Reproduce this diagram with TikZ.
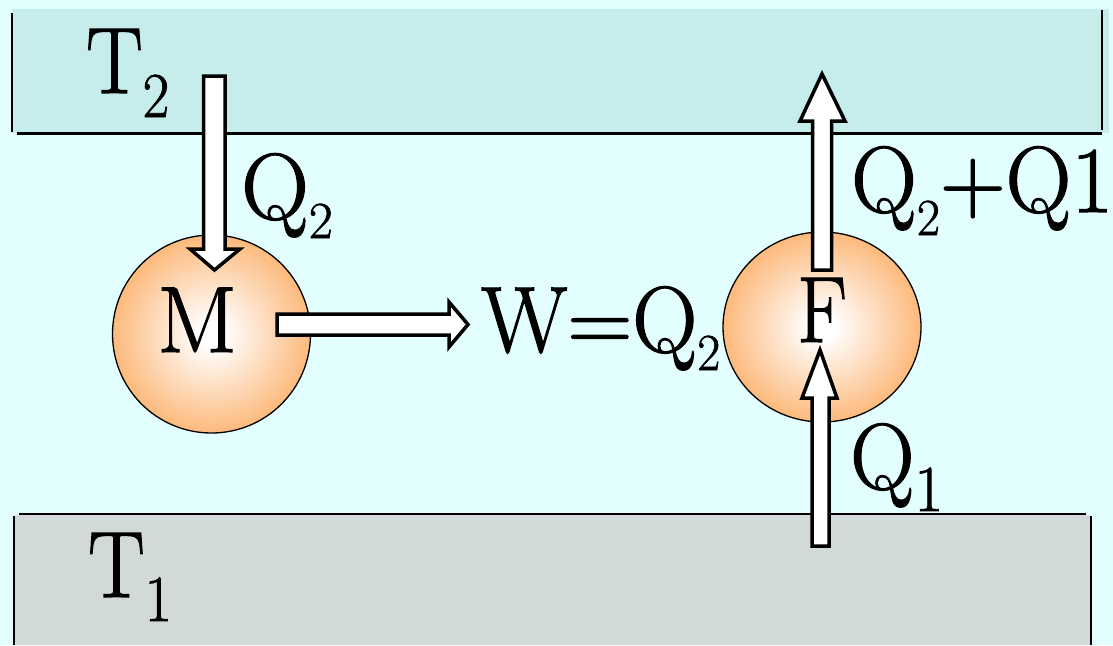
\documentclass[tikz,border=0pt]{standalone}
\usepackage{fontspec}
\newfontfamily\heavy{Latin Modern Roman}[FakeBold=1.3]
\definecolor{bgc}{HTML}{E3FEFE}
\definecolor{hotc}{HTML}{C6ECEC}
\definecolor{coldc}{HTML}{D1D9D9}
\definecolor{orb}{HTML}{FCB06A}
\pgfdeclareradialshading{ball}{\pgfpoint{0bp}{0bp}}{color(0bp)=(white); color(3bp)=(white); color(28bp)=(orb); color(50bp)=(orb)}
\newcommand\mysub[3]{\raisebox{-#1pt}{\fontsize{#2}{#2}\selectfont #3}}
\newcommand\hsq[2]{\scalebox{#1}[1]{#2}}
\begin{document}
\begin{tikzpicture}[x=1pt,y=-1pt,
  lbl/.style={anchor=base west,inner sep=0pt,font=\heavy\fontsize{94}{100}\selectfont},
  bandline/.style={line width=2.6pt,black},
  blockarrow/.style={draw=black,fill=white,line width=3.5pt,line join=miter},
  orbstyle/.style={draw=black,line width=1.3pt,shading=ball}]
\useasboundingbox (0,0) rectangle (1113,645);
\fill[bgc] (0,0) rectangle (1113,645);
% hot reservoir
\fill[hotc] (12,9) rectangle (1109,133);
\draw[bandline] (12,13) -- (12,132);
\draw[bandline] (17,133.5) -- (1102,133.5);
\draw[bandline] (1102,10) -- (1102,130);
% cold reservoir
\fill[coldc] (15,515) rectangle (1090,645);
\draw[bandline] (19,514) -- (1086,514);
\draw[bandline] (14,516) -- (14,645);
\draw[bandline] (1091,516) -- (1091,645);
% machines
\path[orbstyle] (211.5,334) circle [radius=99];
\path[orbstyle] (822,327) ellipse [x radius=99, y radius=95];
\node (M) [circle,minimum size=198pt] at (211.5,334) {};
\node (F) [circle,minimum size=190pt] at (822,327) {};
% labels
\node[lbl] (t2) at (86,93) {\hsq{0.9}{T\mysub{24}{64}{2}}};
\node[lbl] (t1) at (88,597) {\hsq{0.9}{T\mysub{24}{66}{1}}};
\node[lbl] (ml) at (157,352) {M};
\node[lbl] (fl) at (797,342) {\hsq{0.88}{F}};
\node[lbl] (q2) at (241,219) {Q\mysub{19}{52}{2}};
\node[lbl] (w) at (481,352) {\hsq{0.96}{W=Q\mysub{18}{52}{2}}};
\node[lbl] (q21) at (851,212) {\hsq{0.97}{Q\mysub{23}{52}{2}+Q1}};
\node[lbl] (q1) at (850,489) {\hsq{0.95}{Q\mysub{22}{66}{1}}};
% block arrows
\draw[blockarrow] (203.5,76) -- (225,76) -- (225,249) -- (240,249) -- (214.5,270)
  -- (190,249) -- (203.5,249) -- cycle;
\draw[blockarrow] (277,314) -- (449,314) -- (449,302) -- (468,324.5) -- (449,347)
  -- (449,335) -- (277,335) -- cycle;
\draw[blockarrow] (812.5,270) -- (812.5,121) -- (800,121) -- (822,74) -- (845,121)
  -- (831.5,121) -- (831.5,270) -- cycle;
\draw[blockarrow] (812,546) -- (812,398) -- (802,398) -- (820,350) -- (837,398)
  -- (829,398) -- (829,546) -- cycle;
\end{tikzpicture}
\end{document}
